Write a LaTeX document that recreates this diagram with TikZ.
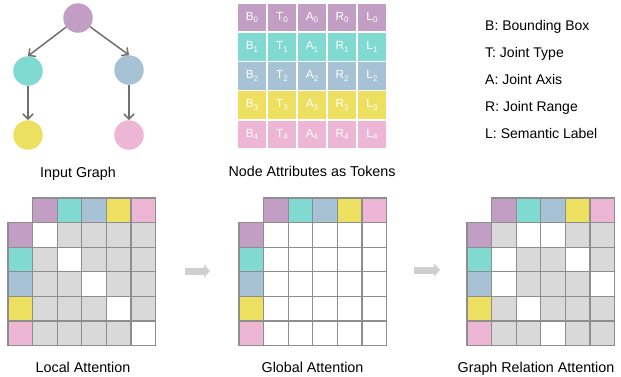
\documentclass[tikz,border=0pt]{standalone}
\usepackage{fontspec}
\setmainfont{Liberation Sans}
\usetikzlibrary{arrows.meta}

\definecolor{nA}{HTML}{C29EC4}
\definecolor{nB}{HTML}{80DAD1}
\definecolor{nC}{HTML}{A7C1D5}
\definecolor{nD}{HTML}{EDE060}
\definecolor{nE}{HTML}{EDB6D5}
\definecolor{cg}{HTML}{D9D9D9}
\definecolor{cw}{HTML}{FFFFFF}
\definecolor{gridline}{HTML}{8E8E8E}
\definecolor{edgegray}{HTML}{707070}
\definecolor{flowgray}{HTML}{CFCFCF}

\newcommand{\tokentext}[2]{#1\raisebox{-2.6pt}{\fontsize{8}{8}\selectfont #2}}

\begin{document}
\begin{tikzpicture}[x=1pt,y=-1pt,
  graphnode/.style={circle, minimum size=29.5pt, inner sep=0pt},
  edge/.style={draw=edgegray, line width=1.5pt, -{Straight Barb[length=5pt,width=10pt,line width=1.5pt]}},
  tokcell/.style={minimum width=30pt, minimum height=29.2pt, inner sep=0pt, draw=white, line width=1.5pt,
    text=white, font=\fontsize{11.8}{13}\selectfont},
  cell/.style={minimum size=24.6pt, inner sep=0pt, outer sep=0pt},
  gridrule/.style={draw=gridline, line width=1.2pt, line cap=rect},
  lbl/.style={anchor=base, inner sep=0pt, font=\fontsize{14.3}{17}\selectfont},
  legend/.style={anchor=base west, inner sep=0pt, font=\fontsize{14}{17}\selectfont},
  flow/.style={draw=flowgray, line width=7pt, -{Triangle[length=6pt,width=13pt]}}
]
\useasboundingbox (0,0) rectangle (621,376);

% ---- input graph ----
\node[graphnode, fill=nA] (g0) at (78,18) {};
\node[graphnode, fill=nB] (g1) at (28,71) {};
\node[graphnode, fill=nC] (g2) at (129,70) {};
\node[graphnode, fill=nD] (g3) at (28,135) {};
\node[graphnode, fill=nE] (g4) at (129,135) {};
\draw[edge] (g0) -- (g1.north);
\draw[edge] (g0) -- (g2.north);
\draw[edge] (g1) -- (g3.north);
\draw[edge] (g2) -- (g4.north);
\node[lbl] (lgraph) at (78,177) {Input Graph};

% ---- token grid ----
\foreach \col [count=\r from 0] in {nA,nB,nC,nD,nE} {
  \foreach \letter [count=\c from 0] in {B,T,A,R,L} {
    \node[tokcell, fill=\col] (t-\r-\c) at ({252+30*\c},{17.6+29.2*\r}) {\tokentext{\letter}{\r}};
  }
}
\node[lbl] (ltok) at (312,176) {Node Attributes as Tokens};

% ---- legend ----
\node[legend] (k1) at (485,30) {B: Bounding Box};
\node[legend] (k2) at (485,57) {T: Joint Type};
\node[legend] (k3) at (485,84) {A: Joint Axis};
\node[legend] (k4) at (485,111) {R: Joint Range};
\node[legend] (k5) at (485,138) {L: Semantic Label};

% ---- attention matrices ----
% #1 name prefix, #2 left x, #3 top y, #4 rows of cell colours
\newcommand{\attnmatrix}[4]{%
  \foreach \hc [count=\k from 0] in {nA,nB,nC,nD,nE} {
    \node[cell, fill=\hc] (#1-h\k) at ({#2+12.3+24.6*(\k+1)},{#3+12.3}) {};
    \node[cell, fill=\hc] (#1-v\k) at ({#2+12.3},{#3+12.3+24.6*(\k+1)}) {};
  }
  \foreach \rowlist [count=\r from 0] in {#4} {
    \foreach \v [count=\c from 0] in \rowlist {
      \node[cell, fill=\v] (#1-\r-\c) at ({#2+12.3+24.6*(\c+1)},{#3+12.3+24.6*(\r+1)}) {};
    }
  }
  % grid rules, one line per row/column boundary
  \draw[gridrule] (#1-h0.north west) -- (#1-h4.north east);
  \draw[gridrule] (#1-v0.north west) -- (#1-0-4.north east);
  \foreach \k in {0,...,4} {
    \draw[gridrule] (#1-v\k.south west) -- (#1-\k-4.south east);
    \draw[gridrule] (#1-h\k.north east) -- (#1-4-\k.south east);
  }
  \draw[gridrule] (#1-h0.north west) -- (#1-4-0.south west);
  \draw[gridrule] (#1-v0.north west) -- (#1-v4.south west);
}

\attnmatrix{loc}{8}{198}{{cw,cg,cg,cg,cg},{cg,cw,cg,cg,cg},{cg,cg,cw,cg,cg},{cg,cg,cg,cw,cg},{cg,cg,cg,cg,cw}}
\attnmatrix{glo}{239}{198}{{cw,cw,cw,cw,cw},{cw,cw,cw,cw,cw},{cw,cw,cw,cw,cw},{cw,cw,cw,cw,cw},{cw,cw,cw,cw,cw}}
\attnmatrix{rel}{467}{198}{{cg,cw,cw,cg,cg},{cw,cg,cg,cw,cg},{cw,cg,cg,cg,cw},{cg,cw,cg,cg,cg},{cg,cg,cw,cg,cg}}

\node[lbl] (lloc) at (83,372) {Local Attention};
\node[lbl] (lglo) at (312.5,372) {Global Attention};
\node[lbl] (lrel) at (536,372) {Graph Relation Attention};

% ---- flow arrows ----
\coordinate (f1s) at (185,271);
\coordinate (f1e) at (210,271);
\coordinate (f2s) at (414,270);
\coordinate (f2e) at (440,270);
\draw[flow] (f1s) -- (f1e);
\draw[flow] (f2s) -- (f2e);
\end{tikzpicture}
\end{document}
